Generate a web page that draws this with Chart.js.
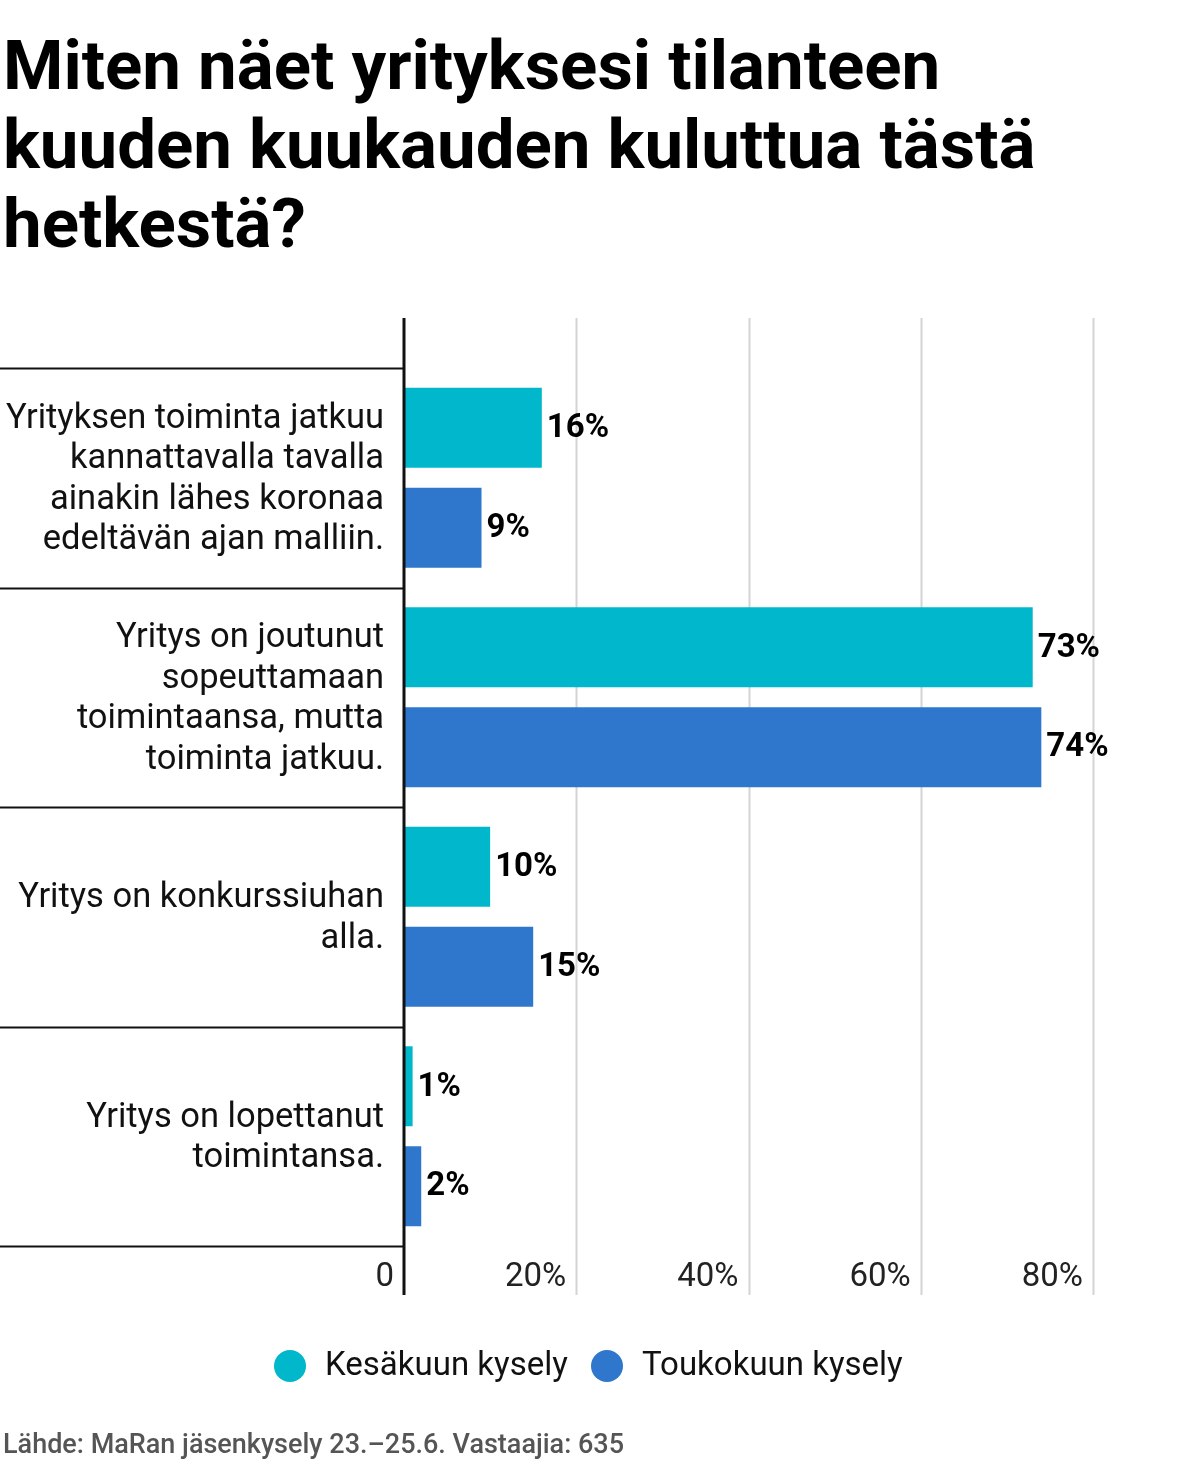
<!DOCTYPE html>
<html><head><meta charset="utf-8">
<script src="https://cdn.jsdelivr.net/npm/chart.js@4/dist/chart.umd.min.js"></script>
<style>html,body{margin:0;padding:0;background:#fff}#c{display:block}</style>
</head><body>
<div style="width:1199px;height:1478px;position:relative"><canvas id="c"></canvas></div>
<script>
const titleLines = ["Miten näet yrityksesi tilanteen","kuuden kuukauden kuluttua tästä","hetkestä?"];
const categories = [
  ["Yrityksen toiminta jatkuu","kannattavalla tavalla","ainakin lähes koronaa","edeltävän ajan malliin."],
  ["Yritys on joutunut","sopeuttamaan","toimintaansa, mutta","toiminta jatkuu."],
  ["Yritys on konkurssiuhan","alla."],
  ["Yritys on lopettanut","toimintansa."]
];
const seriesNames = ["Kesäkuun kysely","Toukokuun kysely"];
const kesakuu = [16,73,10,1];
const toukokuu = [9,74,15,2];
const xTicks = [0,20,40,60,80];
const tickLabels = ["0","20%","40%","60%","80%"];
const source = "Lähde: MaRan jäsenkysely 23.–25.6. Vastaajia: 635";
const colors = ["#00b7cb","#2f77cc"];

const deco = {
  id:'deco',
  beforeDatasetsDraw(chart){
    const ctx=chart.ctx, x=chart.scales.x;
    ctx.save();
    ctx.strokeStyle='#d4d4d4'; ctx.lineWidth=2;
    xTicks.forEach(v=>{ if(v===0) return; const px=Math.round(x.getPixelForValue(v))+0.5;
      ctx.beginPath(); ctx.moveTo(px,318); ctx.lineTo(px,1295); ctx.stroke();});
    ctx.restore();
  },
  afterDraw(chart){
    const ctx=chart.ctx, x=chart.scales.x, y=chart.scales.y, a=chart.chartArea;
    ctx.save();
    ctx.fillStyle='#000'; ctx.font='bold 69px Roboto'; ctx.textAlign='left'; ctx.textBaseline='alphabetic';
    titleLines.forEach((t,i)=>ctx.fillText(t,3,89+i*79));
    ctx.fillStyle='#222'; ctx.font='33px Roboto'; ctx.textAlign='right';
    xTicks.forEach((v,i)=>ctx.fillText(tickLabels[i], x.getPixelForValue(v)-10, 1286));
    ctx.strokeStyle='#111'; ctx.lineWidth=2;
    const n=categories.length, band=(a.bottom-a.top)/n;
    for(let i=0;i<=n;i++){ const py=Math.round(a.top+i*band)+0.5;
      ctx.beginPath(); ctx.moveTo(0,py); ctx.lineTo(a.left,py); ctx.stroke(); }
    ctx.lineWidth=3; ctx.beginPath(); ctx.moveTo(a.left,318); ctx.lineTo(a.left,1295); ctx.stroke();
    ctx.fillStyle='#111'; ctx.font='34.5px Roboto'; ctx.textAlign='right'; ctx.textBaseline='middle';
    categories.forEach((lines,i)=>{ const cy=y.getPixelForValue(i); const lh=40.5;
      lines.forEach((l,j)=>ctx.fillText(l,384,cy+(j-(lines.length-1)/2)*lh+2)); });
    ctx.font='bold 33px Roboto'; ctx.textAlign='left'; ctx.fillStyle='#000';
    chart.data.datasets.forEach((ds,di)=>{ chart.getDatasetMeta(di).data.forEach((el,i)=>{
      ctx.fillText(ds.data[i]+'%', el.x+5, el.y+1); }); });
    ctx.font='33px Roboto'; ctx.textBaseline='middle'; ctx.textAlign='left';
    const lx=[290,607];
    seriesNames.forEach((s,i)=>{ ctx.fillStyle=colors[i]; ctx.beginPath(); ctx.arc(lx[i],1366,16,0,Math.PI*2); ctx.fill();
      ctx.fillStyle='#111'; ctx.fillText(s,lx[i]+35,1367); });
    ctx.font='500 27px Roboto'; ctx.fillStyle='#555'; ctx.textBaseline='alphabetic';
    ctx.fillText(source,3,1453);
    ctx.restore();
  }
};

new Chart(document.getElementById('c'),{
  type:'bar',
  data:{ labels:categories.map(c=>c.join(' ')),
    datasets:[
      {label:seriesNames[0],data:kesakuu,backgroundColor:colors[0]},
      {label:seriesNames[1],data:toukokuu,backgroundColor:colors[1]}
    ]},
  options:{
    indexAxis:'y', responsive:true, maintainAspectRatio:false, animation:false, devicePixelRatio:1,
    categoryPercentage:0.911, barPercentage:0.8,
    layout:{padding:{left:404,right:106,top:368,bottom:232}},
    scales:{ x:{display:false,min:0,max:80}, y:{display:false} },
    plugins:{legend:{display:false},tooltip:{enabled:false}}
  },
  plugins:[deco]
});
</script>
</body></html>
